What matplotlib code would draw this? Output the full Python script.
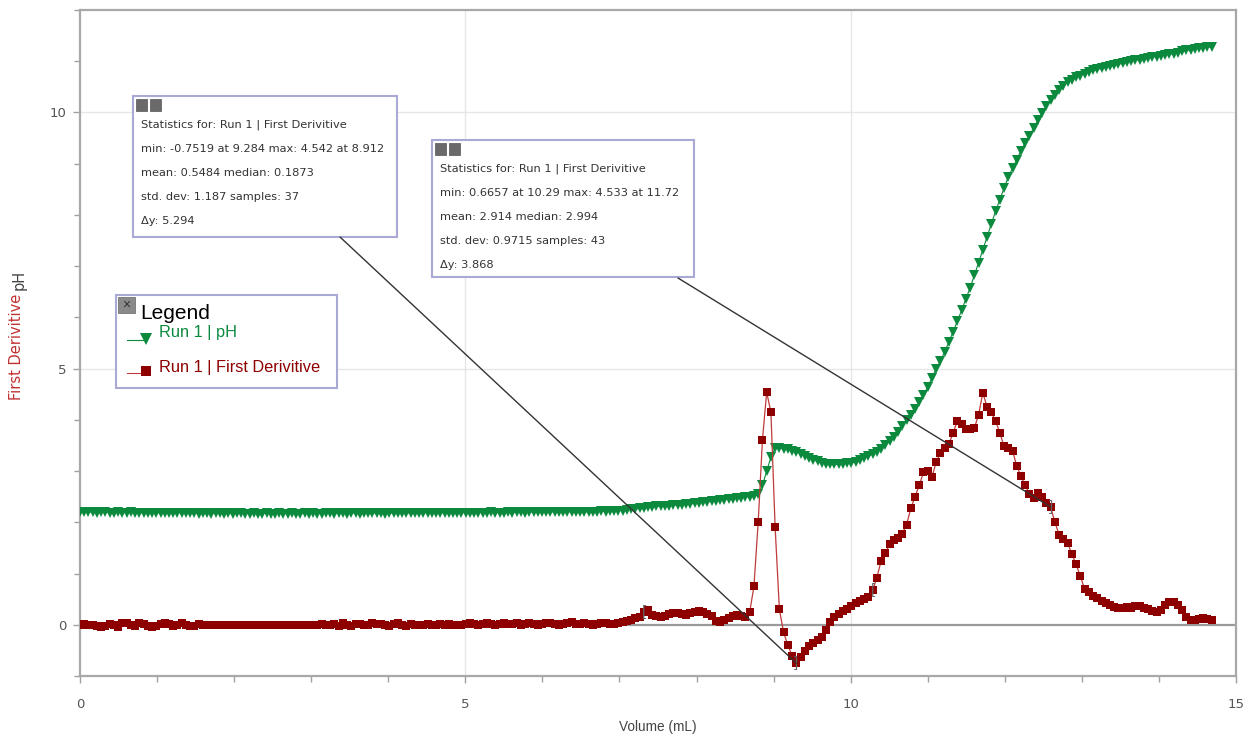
import numpy as np
import matplotlib.pyplot as plt
from matplotlib.patches import Rectangle, ConnectionPatch
from matplotlib.lines import Line2D
from matplotlib.ticker import MultipleLocator

# Run 1 -- pH and its first derivative, one sample per drop (about 0.055 mL)
ph = [
    2.20, 2.21, 2.20, 2.20, 2.19, 2.20, 2.20, 2.19, 2.19, 2.20,
    2.19, 2.19, 2.20, 2.19, 2.19, 2.18, 2.19, 2.19, 2.18, 2.19,
    2.18, 2.19, 2.18, 2.18, 2.19, 2.18, 2.18, 2.18, 2.17, 2.18,
    2.18, 2.17, 2.18, 2.18, 2.17, 2.18, 2.17, 2.18, 2.18, 2.17,
    2.17, 2.18, 2.17, 2.17, 2.18, 2.17, 2.17, 2.18, 2.17, 2.17,
    2.18, 2.17, 2.17, 2.18, 2.17, 2.18, 2.17, 2.17, 2.18, 2.18,
    2.17, 2.18, 2.18, 2.17, 2.18, 2.18, 2.17, 2.18, 2.18, 2.18,
    2.18, 2.18, 2.17, 2.18, 2.18, 2.18, 2.19, 2.18, 2.18, 2.18,
    2.18, 2.19, 2.18, 2.18, 2.19, 2.18, 2.19, 2.19, 2.18, 2.19,
    2.19, 2.19, 2.18, 2.19, 2.19, 2.19, 2.19, 2.20, 2.19, 2.19,
    2.19, 2.20, 2.19, 2.20, 2.20, 2.19, 2.20, 2.20, 2.20, 2.20,
    2.20, 2.20, 2.21, 2.20, 2.20, 2.21, 2.20, 2.21, 2.21, 2.20,
    2.21, 2.21, 2.21, 2.22, 2.21, 2.22, 2.22, 2.23, 2.23, 2.24,
    2.25, 2.26, 2.27, 2.28, 2.29, 2.30, 2.31, 2.31, 2.32, 2.32,
    2.33, 2.34, 2.34, 2.35, 2.36, 2.37, 2.38, 2.39, 2.40, 2.41,
    2.42, 2.43, 2.44, 2.45, 2.46, 2.47, 2.48, 2.49, 2.50, 2.51,
    2.55, 2.72, 3.00, 3.27, 3.45, 3.46, 3.44, 3.43, 3.40, 3.37,
    3.34, 3.30, 3.26, 3.22, 3.19, 3.16, 3.14, 3.13, 3.13, 3.13,
    3.14, 3.15, 3.16, 3.18, 3.21, 3.25, 3.29, 3.33, 3.38, 3.43,
    3.50, 3.58, 3.67, 3.77, 3.88, 3.99, 4.10, 4.22, 4.35, 4.48,
    4.64, 4.82, 4.99, 5.15, 5.33, 5.52, 5.72, 5.93, 6.14, 6.36,
    6.58, 6.82, 7.07, 7.32, 7.57, 7.83, 8.07, 8.30, 8.52, 8.74,
    8.91, 9.08, 9.25, 9.41, 9.55, 9.70, 9.85, 9.99, 10.12, 10.24,
    10.35, 10.44, 10.52, 10.59, 10.64, 10.69, 10.72, 10.76, 10.79, 10.82,
    10.84, 10.86, 10.88, 10.90, 10.92, 10.94, 10.96, 10.98, 11.00, 11.02,
    11.03, 11.05, 11.06, 11.08, 11.09, 11.11, 11.12, 11.14, 11.15, 11.17,
    11.19, 11.21, 11.22, 11.24, 11.25, 11.26, 11.27, 11.28,
]

deriv = [
    0.00, 0.01, -0.01, 0.00, -0.03, -0.05, -0.02, 0.02, -0.01, -0.04,
    0.03, 0.04, 0.00, -0.02, 0.03, 0.01, -0.03, -0.05, -0.02, 0.02,
    0.04, 0.01, -0.02, -0.01, 0.03, 0.00, -0.03, -0.02, 0.01, 0.00,
    -0.01, 0.00, 0.00, -0.01, 0.00, 0.00, 0.00, -0.01, 0.00, 0.00,
    0.00, -0.01, 0.00, 0.00, 0.00, -0.01, 0.00, 0.00, 0.00, 0.00,
    -0.01, 0.00, 0.00, 0.00, -0.01, 0.00, 0.00, 0.01, 0.00, 0.00,
    0.02, -0.02, 0.03, 0.00, -0.02, 0.02, 0.01, -0.01, 0.00, 0.03,
    0.01, 0.02, -0.01, -0.02, 0.01, 0.03, 0.00, -0.02, 0.01, 0.00,
    -0.01, 0.00, 0.01, 0.00, 0.00, 0.01, 0.00, 0.01, 0.00, -0.01,
    0.00, 0.01, 0.03, 0.02, -0.01, 0.01, 0.03, 0.02, 0.00, 0.02,
    0.04, 0.01, 0.02, 0.03, 0.00, 0.02, 0.04, 0.01, -0.01, 0.02,
    0.03, 0.04, 0.02, 0.00, 0.01, 0.03, 0.05, 0.02, 0.01, 0.03,
    0.02, 0.00, 0.01, 0.03, 0.04, 0.02, 0.01, 0.04, 0.06, 0.08,
    0.10, 0.13, 0.16, 0.24, 0.29, 0.20, 0.17, 0.16, 0.18, 0.21,
    0.22, 0.23, 0.21, 0.19, 0.22, 0.25, 0.26, 0.24, 0.21, 0.17,
    0.08, 0.06, 0.10, 0.14, 0.18, 0.20, 0.17, 0.16, 0.25, 0.75,
    2.00, 3.60, 4.54, 4.15, 1.90, 0.30, -0.15, -0.40, -0.60, -0.75,
    -0.62, -0.52, -0.42, -0.36, -0.30, -0.24, -0.10, 0.05, 0.16, 0.21,
    0.26, 0.30, 0.36, 0.42, 0.46, 0.50, 0.55, 0.67, 0.92, 1.25,
    1.40, 1.57, 1.65, 1.70, 1.78, 1.95, 2.27, 2.50, 2.72, 2.98,
    3.00, 2.88, 3.18, 3.35, 3.45, 3.53, 3.75, 3.98, 3.92, 3.82,
    3.83, 3.84, 4.10, 4.53, 4.25, 4.15, 3.98, 3.75, 3.48, 3.45,
    3.40, 3.10, 2.90, 2.72, 2.55, 2.48, 2.58, 2.50, 2.38, 2.30,
    2.00, 1.76, 1.68, 1.60, 1.38, 1.18, 0.95, 0.70, 0.63, 0.57,
    0.52, 0.47, 0.42, 0.38, 0.34, 0.32, 0.33, 0.34, 0.33, 0.36,
    0.36, 0.33, 0.30, 0.27, 0.25, 0.28, 0.38, 0.45, 0.44, 0.38,
    0.28, 0.16, 0.09, 0.10, 0.12, 0.13, 0.11, 0.09,
]

volume = np.arange(len(ph)) * 0.055

# examined ranges (sample indices) and the statistics shown for them
range_1 = (133, 169)
range_2 = (187, 229)
stats_1 = [
    "Statistics for: Run 1 | First Derivitive",
    "min: -0.7519 at 9.284 max: 4.542 at 8.912",
    "mean: 0.5484 median: 0.1873",
    "std. dev: 1.187 samples: 37",
    "\u0394y: 5.294",
]
stats_2 = [
    "Statistics for: Run 1 | First Derivitive",
    "min: 0.6657 at 10.29 max: 4.533 at 11.72",
    "mean: 2.914 median: 2.994",
    "std. dev: 0.9715 samples: 43",
    "\u0394y: 3.868",
]

GREEN = "#0b8a3e"
RED = "#8e0000"
RED_LINE = "#c03a3a"

W, H = 1252, 735
fig = plt.figure(figsize=(W / 100, H / 100), dpi=100)
plt.rcParams["font.family"] = ["Liberation Sans", "DejaVu Sans"]


def fx(px):
    return px / W


def fy(py):
    return 1 - py / H


ax = fig.add_axes([fx(80), fy(676), (1236 - 80) / W, (676 - 10) / H])
ax.set_xlim(0, 15)
ax.set_ylim(-1, 12)

# grid only at major values, darker zero line
for v in (5, 10):
    ax.axvline(v, color="#e6e6e6", lw=1, zorder=0)
    ax.axhline(v, color="#e6e6e6", lw=1, zorder=0)
ax.axhline(0, color="#9a9a9a", lw=1.6, zorder=1)

ax.plot(volume, ph, color=GREEN, lw=0.8, marker="v", ms=7.3, mew=0, zorder=3)
ax.plot(volume, deriv, color=RED_LINE, lw=0.9, marker="s", ms=5.6, mew=0,
        markerfacecolor=RED, zorder=4)

# range brackets
for (a, b) in (range_1, range_2):
    ax.text(volume[a], deriv[a], "[", fontsize=11, color="#666", ha="center",
            va="center", zorder=5)
    ax.text(volume[b], deriv[b], "]", fontsize=11, color="#666", ha="center",
            va="center", zorder=5)

ax.set_xticks([0, 5, 10, 15])
ax.set_yticks([0, 5, 10])
ax.xaxis.set_minor_locator(MultipleLocator(1))
ax.yaxis.set_minor_locator(MultipleLocator(1))
ax.tick_params(which="both", direction="out", color="#a0a0a0", width=1)
ax.tick_params(which="major", length=5, labelsize=9.5, labelcolor="#555")
ax.tick_params(which="minor", length=4)
ax.tick_params(axis="x", pad=11)
ax.tick_params(axis="y", pad=5)
for lab in ax.get_xticklabels() + ax.get_yticklabels():
    lab.set_family("DejaVu Sans")
for s in ax.spines.values():
    s.set_color("#a8a8a8")
    s.set_linewidth(1.6)

fig.text(fx(658), fy(727), "Volume (mL)", fontsize=9.8, color="#444",
         ha="center", va="center")
fig.text(fx(17), fy(347), "First Derivitive", fontsize=10.5, color="#c03030",
         rotation=90, ha="center", va="center", family="DejaVu Sans")
fig.text(fx(19), fy(280), "pH", fontsize=10.5, color="#444",
         rotation=90, ha="center", va="center", family="DejaVu Sans")


def stats_box(x0, y0, x1, y1, lines, dy):
    fig.patches.append(Rectangle((fx(x0), fy(y1)), fx(x1) - fx(x0), fy(y0) - fy(y1),
                                 transform=fig.transFigure, facecolor="white",
                                 edgecolor="#a9a9d6", lw=1.5, zorder=6))
    for k in range(2):
        fig.patches.append(Rectangle((fx(x0 + 3 + k * 14), fy(y0 + 15)), 11 / W, 12 / H,
                                     transform=fig.transFigure, facecolor="#6a6a6a",
                                     edgecolor="#555", lw=0.5, zorder=7))
    for k, t in enumerate(lines):
        fig.text(fx(x0 + 8), fy(y0 + 29 + k * dy), t, fontsize=8.2, color="#333",
                 ha="left", va="center", zorder=8, family="DejaVu Sans")


stats_box(133, 96, 397, 237, stats_1, 24)
stats_box(432, 140, 694, 277, stats_2, 24)

# leader lines from each box to the end of its range
for (xa, ya), idx in (((340, 237), range_1[1]), ((678, 278), range_2[1])):
    con = ConnectionPatch(xyA=(fx(xa), fy(ya)), coordsA=fig.transFigure,
                          xyB=(volume[idx], deriv[idx]), coordsB=ax.transData,
                          color="#333", lw=1.0, zorder=9)
    fig.add_artist(con)

# legend panel
fig.patches.append(Rectangle((fx(116), fy(388)), fx(337) - fx(116), fy(295) - fy(388),
                             transform=fig.transFigure, facecolor="white",
                             edgecolor="#a9a9d6", lw=1.5, zorder=6))
fig.patches.append(Rectangle((fx(118), fy(313)), 17 / W, 16 / H,
                             transform=fig.transFigure, facecolor="#8a8a8a",
                             edgecolor="#666", lw=0.5, zorder=7))
fig.text(fx(126.5), fy(305), "\u00d7", fontsize=10, color="#333", ha="center",
         va="center", zorder=8)
fig.text(fx(140), fy(313), "Legend", fontsize=15, color="black", ha="left",
         va="center", zorder=8)
fig.lines.append(Line2D([fx(127), fx(146)], [fy(340), fy(340)], transform=fig.transFigure,
                        color=GREEN, lw=0.8, zorder=7))
fig.lines.append(Line2D([fx(146)], [fy(339)], transform=fig.transFigure, color=GREEN,
                        marker="v", ms=9, mew=0, zorder=8))
fig.text(fx(159), fy(332), "Run 1 | pH", fontsize=11.8, color=GREEN, ha="left",
         va="center", zorder=8)
fig.lines.append(Line2D([fx(127), fx(146)], [fy(373), fy(373)], transform=fig.transFigure,
                        color=RED_LINE, lw=0.8, zorder=7))
fig.lines.append(Line2D([fx(146)], [fy(371)], transform=fig.transFigure, color=RED,
                        marker="s", ms=7, mew=0, zorder=8))
fig.text(fx(159), fy(367), "Run 1 | First Derivitive", fontsize=11.8, color=RED,
         ha="left", va="center", zorder=8)

fig.savefig("out.png", dpi=100)
